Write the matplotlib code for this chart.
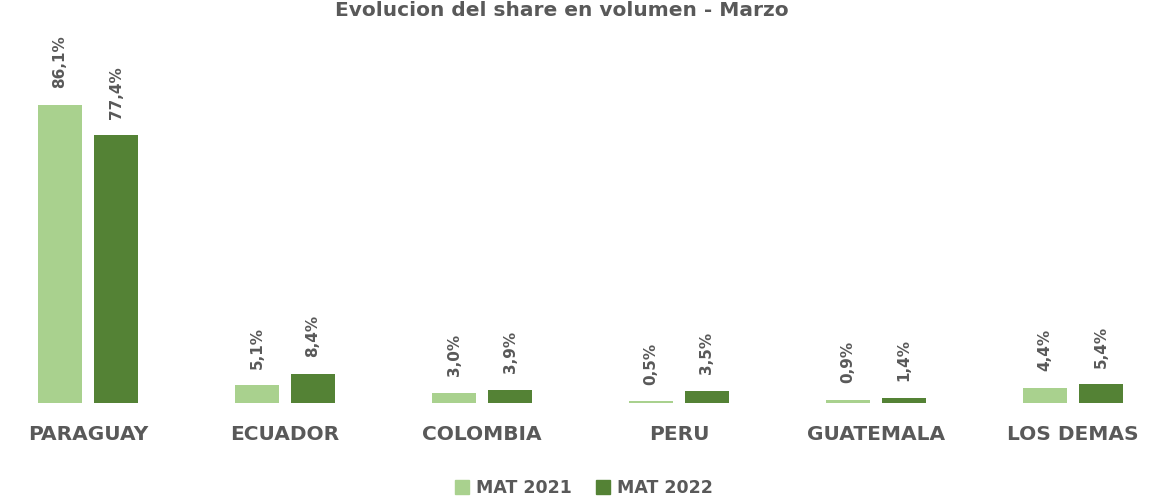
import matplotlib
matplotlib.use("Agg")
import matplotlib.pyplot as plt
import numpy as np
from matplotlib.patches import Patch

categories = ["PARAGUAY", "ECUADOR", "COLOMBIA", "PERU", "GUATEMALA", "LOS DEMAS"]
mat_2021 = [86.1, 5.1, 3.0, 0.5, 0.9, 4.4]
mat_2022 = [77.4, 8.4, 3.9, 3.5, 1.4, 5.4]
series_names = ["MAT 2021", "MAT 2022"]
title = "Evolucion del share en volumen - Marzo"

light = "#A9D18E"
dark = "#548235"
gray = "#595959"
font = ["DejaVu Sans"]

W, H = 1163, 498
fig = plt.figure(figsize=(W / 100, H / 100), dpi=100)
ax = fig.add_axes([0, 95 / H, 1, 1 - 95 / H])

x = np.arange(len(categories))
bw = 44 / 197
off = 28 / 197
b1 = ax.bar(x - off, mat_2021, bw, color=light)
b2 = ax.bar(x + off, mat_2022, bw, color=dark)

for bars, vals in ((b1, mat_2021), (b2, mat_2022)):
    for r, v in zip(bars, vals):
        ax.annotate(f"{v:.1f}%".replace(".", ","),
                    (r.get_x() + r.get_width() / 2, r.get_height()),
                    xytext=(0, 12), textcoords="offset points",
                    rotation=90, ha="center", va="bottom",
                    fontsize=11, fontweight="bold", color=gray, family=font)

ax.set_xlim(-88 / 197, (W - 88) / 197)
ax.set_ylim(0, 403 / 3.46)
ax.axis("off")

for xi, c in zip(x, categories):
    ax.text(xi, -31 / 3.46, c, ha="center", va="center", fontsize=14.5,
            fontweight="bold", color=gray, family=font)

fig.text(562 / W, 1 - 16 / H, title, ha="center", va="baseline", fontsize=14.5,
         fontweight="bold", color=gray, family=font)

handles = [Patch(color=light), Patch(color=dark)]
leg = fig.legend(handles, series_names, loc="center", bbox_to_anchor=(584 / W, 1 - 488 / H),
                 ncol=2, frameon=False, handlelength=0.8, handleheight=0.8,
                 handletextpad=0.4, columnspacing=1.4,
                 prop={"family": font, "size": 12.5, "weight": "bold"})
for t in leg.get_texts():
    t.set_color(gray)

fig.savefig("out.png", dpi=100)
